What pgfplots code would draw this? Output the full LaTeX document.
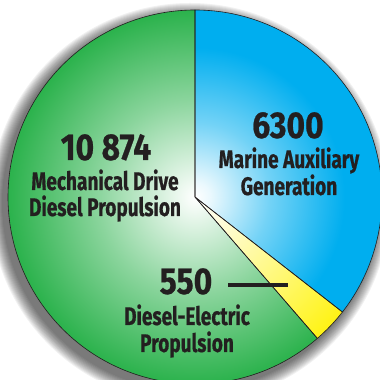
\documentclass[border=0pt]{standalone}
\usepackage{pgfplots}
\usepackage{pgfplotstable}
\pgfplotsset{compat=1.18}
\usepackage{fontspec}
\setmainfont{Fira Sans}[FakeStretch=0.75, FakeBold=0.6]
\newfontfamily\numfont{Fira Sans}[FakeStretch=0.85, FakeBold=0.6]
\definecolor{pgreen}{HTML}{2BB24C}
\definecolor{pblue}{HTML}{00AEEF}
\definecolor{pyellow}{HTML}{FFF200}
\definecolor{ptext}{HTML}{231F20}
\pgfdeclareradialshading{gshade}{\pgfpoint{0bp}{0bp}}{color(0bp)=(white); color(2bp)=(pgreen!8!white); color(13bp)=(pgreen!55!white); color(25bp)=(pgreen); color(100bp)=(pgreen)}
\pgfdeclareradialshading{bshade}{\pgfpoint{0bp}{0bp}}{color(0bp)=(white); color(2bp)=(pblue!8!white); color(10bp)=(pblue!55!white); color(20bp)=(pblue); color(100bp)=(pblue)}
\pgfdeclareradialshading{yshade}{\pgfpoint{0bp}{0bp}}{color(0bp)=(white); color(5bp)=(pyellow!15!white); color(17bp)=(pyellow!60!white); color(27bp)=(pyellow); color(100bp)=(pyellow)}
\pgfplotstableread{
name value
Mechanical 10874
Marine 6300
Electric 550
}\piedata
\begin{document}
\begin{tikzpicture}
\useasboundingbox (0,0) rectangle (10cm,10cm);
\clip (0,0) rectangle (10cm,10cm);
\pgfplotstablegetelem{0}{value}\of\piedata \let\vA\pgfplotsretval
\pgfplotstablegetelem{1}{value}\of\piedata \let\vB\pgfplotsretval
\pgfplotstablegetelem{2}{value}\of\piedata \let\vC\pgfplotsretval
\pgfmathsetmacro{\tot}{\vA/1000+\vB/1000+\vC/1000}
\pgfmathsetmacro{\aB}{90-360*(\vB/1000)/\tot}
\pgfmathsetmacro{\aC}{\aB-360*(\vC/1000)/\tot}
\pgfmathsetmacro{\aA}{90-360}
\def\R{4.921cm}
\def\px{0.026316cm}
\begin{axis}[hide axis, scale only axis, width=10cm, height=10cm,
  xmin=0, xmax=380, ymin=0, ymax=380, clip=false]
% soft shadow
\pgfplotsinvokeforeach{1,...,13}{
  \fill[black, opacity=0.055] (axis cs:190,177) circle[radius=\R+#1*\px];
}
% slices
\begin{scope}
\clip (axis cs:195,183) -- +(90:\R) arc[start angle=90, end angle=\aB, radius=\R] -- cycle;
\shade[shading=bshade] (axis cs:195,183) circle[radius=\R];
\end{scope}
\begin{scope}
\clip (axis cs:195,183) -- +(\aB:\R) arc[start angle=\aB, end angle=\aC, radius=\R] -- cycle;
\shade[shading=yshade] (axis cs:195,183) circle[radius=\R];
\end{scope}
\begin{scope}
\clip (axis cs:195,183) -- +(\aC:\R) arc[start angle=\aC, end angle=\aA, radius=\R] -- cycle;
\shade[shading=gshade] (axis cs:195,183) circle[radius=\R];
\end{scope}
\draw[ptext, line width=0.45pt, line join=round] (axis cs:195,183) -- +(90:\R) arc[start angle=90, end angle=\aB, radius=\R] -- cycle;
\draw[ptext, line width=0.45pt, line join=round] (axis cs:195,183) -- +(\aB:\R) arc[start angle=\aB, end angle=\aC, radius=\R] -- cycle;
\draw[ptext, line width=0.45pt, line join=round] (axis cs:195,183) -- +(\aC:\R) arc[start angle=\aC, end angle=\aA, radius=\R] -- cycle;
% labels
\begin{scope}[every node/.style={text=ptext, inner sep=0pt, anchor=base}]
\node[font=\numfont\fontsize{28}{32}\bfseries] at (axis cs:106,220) {10 874};
\node[font=\fontsize{19}{22}\bfseries] at (axis cs:105,190) {Mechanical Drive};
\node[font=\fontsize{19}{22}\bfseries] at (axis cs:105,164) {Diesel Propulsion};
\node[font=\numfont\fontsize{28}{32}\bfseries] at (axis cs:288,242) {6300};
\node[font=\fontsize{19}{22}\bfseries] at (axis cs:289,212) {Marine Auxiliary};
\node[font=\fontsize{19}{22}\bfseries] at (axis cs:289,185) {Generation};
\node[font=\numfont\fontsize{28}{32}\bfseries] at (axis cs:186,86) {550};
\node[font=\fontsize{19}{22}\bfseries] at (axis cs:187,55) {Diesel-Electric};
\node[font=\fontsize{19}{22}\bfseries] at (axis cs:187,28) {Propulsion};
\end{scope}
\draw[ptext, line width=2.3pt] (axis cs:228,95) -- (axis cs:288,95);
\end{axis}
\end{tikzpicture}
\end{document}
